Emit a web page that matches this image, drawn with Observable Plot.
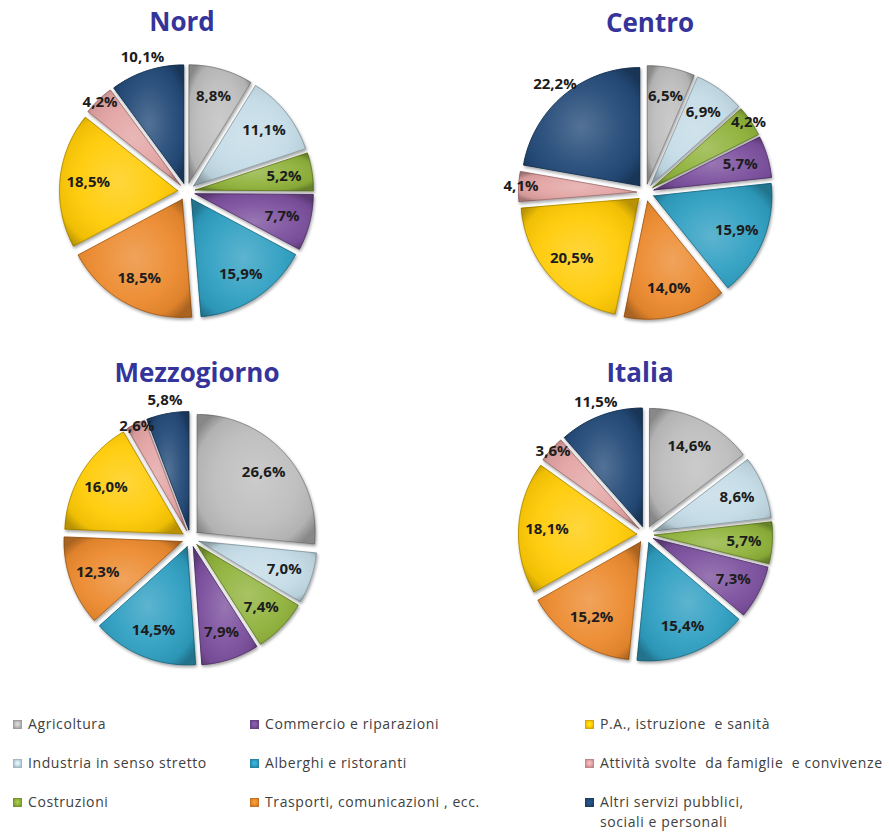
<!DOCTYPE html>
<html>
<head>
<meta charset="utf-8">
<script src="https://cdn.jsdelivr.net/npm/d3@7"></script>
<script src="https://cdn.jsdelivr.net/npm/@observablehq/plot@0.6"></script>
<style>
  html, body { margin: 0; padding: 0; background: #fff; }
  #wrap { position: relative; width: 889px; height: 834px; overflow: hidden; font-family: "Open Sans", sans-serif; }
  .pie { position: absolute; }
  .title { position: absolute; font-family: "Open Sans", sans-serif; font-weight: 700; font-size: 26px; line-height: 26px; color: #34349a; transform: translate(-50%, -50%); white-space: nowrap; }
  .leg { position: absolute; font-size: 14px; color: #404040; white-space: pre; line-height: 20px; letter-spacing: 0.6px; }
  .sw { position: absolute; width: 9px; height: 9px; box-sizing: border-box; }
</style>
</head>
<body>
<div id="wrap"></div>
<script>
// ---- data ----
const categories = [
  "Agricoltura",
  "Industria in senso stretto",
  "Costruzioni",
  "Commercio e riparazioni",
  "Alberghi e ristoranti",
  "Trasporti, comunicazioni , ecc.",
  "P.A., istruzione  e sanità",
  "Attività svolte  da famiglie  e convivenze",
  "Altri servizi pubblici,\nsociali e personali"
];
const colors = ["#bdbdbd", "#c3dbe6", "#8fb23a", "#7b4f9d", "#2f9fc2", "#ec8a2e", "#ffcb05", "#e3a3a3", "#234a78"];
const regions = ["Nord", "Centro", "Mezzogiorno", "Italia"];
const nord = [8.8, 11.1, 5.2, 7.7, 15.9, 18.5, 18.5, 4.2, 10.1];
const centro = [6.5, 6.9, 4.2, 5.7, 15.9, 14.0, 20.5, 4.1, 22.2];
const mezzogiorno = [26.6, 7.0, 7.4, 7.9, 14.5, 12.3, 16.0, 2.6, 5.8];
const italia = [14.6, 8.6, 5.7, 7.3, 15.4, 15.2, 18.1, 3.6, 11.5];
const seriesValues = [nord, centro, mezzogiorno, italia];

// ---- layout ----
const layout = [
  {cx: 186, cy: 191, tx: 182, ty: 21},
  {cx: 645, cy: 192, tx: 650, ty: 22},
  {cx: 190, cy: 538, tx: 197, ty: 372},
  {cx: 645, cy: 534, tx: 640, ty: 372}
];
const R = 118, D = 9, HALF = 175;

const wrap = document.getElementById("wrap");
const fmt = v => d3.format(".1f")(v).replace(".", ",") + "%";

seriesValues.forEach((vals, k) => {
  const data = categories.map((c, i) => ({cat: c, value: vals[i]}));
  const arcs = d3.pie().sort(null).value(d => d.value)(data);
  const pts = [];
  const labels = [];
  arcs.forEach(a => {
    const mid = (a.startAngle + a.endAngle) / 2;
    const ox = D * Math.sin(mid), oy = D * Math.cos(mid);
    pts.push({cat: a.data.cat, x: ox, y: oy});
    const n = Math.max(2, Math.ceil((a.endAngle - a.startAngle) / 0.02));
    for (let j = 0; j <= n; j++) {
      const t = a.startAngle + (a.endAngle - a.startAngle) * j / n;
      pts.push({cat: a.data.cat, x: ox + R * Math.sin(t), y: oy + R * Math.cos(t)});
    }
    pts.push({cat: a.data.cat, x: ox, y: oy});
    const idx = categories.indexOf(a.data.cat);
    let lr = R * 0.76;
    if (idx === 8) lr = R + 14;
    else if (a.data.value < 5) lr = R * 0.98;
    labels.push({cat: a.data.cat, value: a.data.value, x: ox + lr * Math.sin(mid), y: oy + lr * Math.cos(mid)});
  });

  const gid = "shade" + k;
  const plot = Plot.plot({
    width: 2 * HALF, height: 2 * HALF,
    margin: 0,
    x: {domain: [-HALF, HALF], axis: null},
    y: {domain: [-HALF, HALF], axis: null},
    color: {domain: categories, range: colors},
    marks: [
      Plot.line(pts, {x: "x", y: "y", z: "cat", fill: "cat", stroke: "cat", strokeWidth: 1, curve: "linear-closed"}),
      Plot.line(pts, {x: "x", y: "y", z: "cat", fill: `url(#${gid})`, stroke: "rgba(0,0,0,0.25)", strokeWidth: 1, curve: "linear-closed"}),
      Plot.text(labels, {x: "x", y: "y", text: d => fmt(d.value), fill: "#1c1c1c", fontSize: 15, fontWeight: "bold", fontFamily: "Open Sans"})
    ]
  });
  plot.style.background = "transparent";
  plot.insertAdjacentHTML("afterbegin",
    `<defs><radialGradient id="${gid}" cx="50%" cy="50%" r="62%">
      <stop offset="0%" stop-color="#fff" stop-opacity="0.22"/>
      <stop offset="55%" stop-color="#fff" stop-opacity="0.05"/>
      <stop offset="85%" stop-color="#000" stop-opacity="0.06"/>
      <stop offset="100%" stop-color="#000" stop-opacity="0.28"/>
    </radialGradient></defs>`);
  const firstLine = plot.querySelector('g[aria-label="line"]');
  if (firstLine) firstLine.style.filter = "drop-shadow(1px 2px 1.5px rgba(0,0,0,0.35))";

  const div = document.createElement("div");
  div.className = "pie";
  div.style.left = (layout[k].cx - HALF) + "px";
  div.style.top = (layout[k].cy - HALF) + "px";
  div.appendChild(plot);
  wrap.appendChild(div);
});

regions.forEach((r, k) => {
  const t = document.createElement("div");
  t.className = "title";
  t.textContent = r;
  t.style.left = layout[k].tx + "px";
  t.style.top = layout[k].ty + "px";
  wrap.appendChild(t);
});

// ---- legend ----
const legCols = [13, 250, 585];
const legRows = [725, 764, 803];
categories.forEach((c, i) => {
  const col = Math.floor(i / 3), row = i % 3;
  const sx = legCols[col], sy = legRows[row];
  const sw = document.createElement("div");
  sw.className = "sw";
  const base = d3.color(colors[i]);
  sw.style.left = sx + "px";
  sw.style.top = (sy - 5) + "px";
  sw.style.background = `radial-gradient(circle at 50% 45%, ${base.brighter(0.5)} 0%, ${base} 55%, ${base.darker(0.6)} 100%)`;
  sw.style.border = `1px solid ${base.darker(0.5)}`;
  wrap.appendChild(sw);
  const lab = document.createElement("div");
  lab.className = "leg";
  lab.textContent = c;
  lab.style.left = (sx + 15) + "px";
  lab.style.top = (sy - 11) + "px";
  wrap.appendChild(lab);
});
</script>
</body>
</html>
